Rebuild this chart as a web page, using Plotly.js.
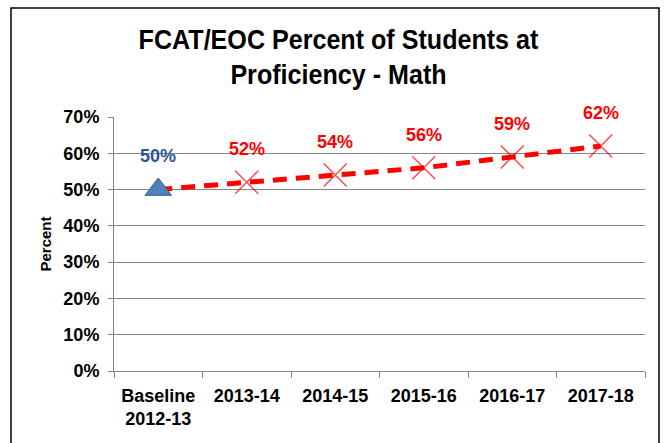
<!DOCTYPE html>
<html><head><meta charset="utf-8">
<script src="https://cdn.plot.ly/plotly-3.0.1.min.js"></script>
<style>html,body{margin:0;padding:0;background:#fff}#chart{width:668px;height:443px}</style>
</head><body><div id="chart"></div>
<script>
const categories = ["Baseline<br>2012-13", "2013-14", "2014-15", "2015-16", "2016-17", "2017-18"];
const baselineCategory = ["Baseline<br>2012-13"];
const baselineValue = [0.50];
const baselineLabels = ["50%"];
const targetValues = [0.50, 0.52, 0.54, 0.56, 0.59, 0.62];
const targetLabels = ["", "52%", "54%", "56%", "59%", "62%"];
const yTickVals = [0, 0.1, 0.2, 0.3, 0.4, 0.5, 0.6, 0.7];
const yTickText = ["0%", "10%", "20%", "30%", "40%", "50%", "60%", "70%"];

const sans = "'Liberation Sans', Arial, sans-serif";

const traces = [
  {
    x: categories, y: targetValues, type: 'scatter', mode: 'lines+markers',
    line: {color: '#FF0000', width: 5, dash: '14px,9px'},
    marker: {symbol: ['circle', 'x-thin', 'x-thin', 'x-thin', 'x-thin', 'x-thin'],
             size: [0, 23, 23, 23, 23, 23], line: {color: '#FF0000', width: 1.5}, color: '#FF0000'},
    cliponaxis: false, hoverinfo: 'skip'
  },
  {
    x: baselineCategory, y: baselineValue, type: 'scatter', mode: 'markers',
    marker: {symbol: 'triangle-up', size: 23, color: '#4F81BD', line: {color: '#385D8A', width: 1}},
    cliponaxis: false, hoverinfo: 'skip'
  }
];

const annotations = [];
baselineCategory.forEach((c, i) => annotations.push({
  x: c, y: baselineValue[i], xref: 'x', yref: 'y', text: '<b>' + baselineLabels[i] + '</b>',
  showarrow: false, yshift: 34, font: {family: sans, size: 18, color: '#2E5597'}
}));
categories.forEach((c, i) => { if (targetLabels[i]) annotations.push({
  x: c, y: targetValues[i], xref: 'x', yref: 'y', text: '<b>' + targetLabels[i] + '</b>',
  showarrow: false, yshift: 33, font: {family: sans, size: 18, color: '#FF0000'}
}); });

const layout = {
  width: 668, height: 443,
  margin: {l: 114, r: 23, t: 117, b: 72},
  paper_bgcolor: '#ffffff', plot_bgcolor: '#ffffff',
  showlegend: false,
  title: {
    text: '<b>FCAT/EOC Percent of Students at<br>Proficiency - Math</b>',
    font: {family: sans, size: 27, color: '#000000'},
    x: 0.5067, xref: 'container', xanchor: 'center',
    y: 0.89, yref: 'container', yanchor: 'top'
  },
  xaxis: {
    type: 'category', categoryorder: 'array', categoryarray: categories,
    range: [-0.5, 5.5],
    showgrid: false, zeroline: false,
    showline: true, linecolor: '#868686', linewidth: 1,
    ticks: 'outside', ticklen: 6, tickcolor: '#868686', tickson: 'boundaries',
    ticklabelstandoff: 8,
    tickfont: {family: sans, size: 18, color: '#000000', weight: 'bold'}
  },
  yaxis: {
    range: [0, 0.7], tickvals: yTickVals, ticktext: yTickText,
    showgrid: true, gridcolor: '#868686', gridwidth: 1, zeroline: false,
    showline: true, linecolor: '#868686', linewidth: 1,
    ticks: 'outside', ticklen: 5, tickcolor: '#868686',
    ticklabelstandoff: 5,
    tickfont: {family: sans, size: 18, color: '#000000', weight: 'bold'},
    title: {text: '<b>Percent</b>', font: {family: sans, size: 15, color: '#000000'}, standoff: 8}
  },
  annotations: annotations,
  shapes: [{
    type: 'rect', xref: 'paper', yref: 'paper',
    x0: (11 - 114) / 531, x1: (659 - 114) / 531,
    y0: (371 - 460) / 254, y1: (371 - 8) / 254,
    line: {color: '#000000', width: 1.5}, fillcolor: 'rgba(0,0,0,0)', layer: 'above'
  }]
};

Plotly.newPlot('chart', traces, layout, {displayModeBar: false, staticPlot: true}).then(() => {
  const t = document.querySelector('.gtitle');
  if (t) {
    t.style.transformBox = 'fill-box';
    t.style.transformOrigin = 'center';
    t.style.transform = 'scaleX(0.93)';
  }
});
</script></body></html>
